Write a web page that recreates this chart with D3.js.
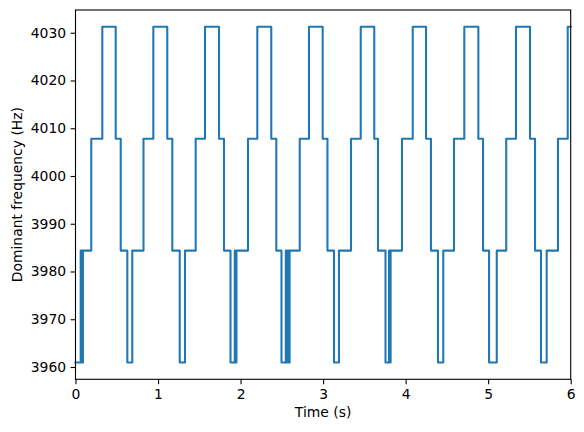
<!DOCTYPE html>
<html>
<head>
<meta charset="utf-8">
<script src="https://cdn.jsdelivr.net/npm/d3@7"></script>
<style>
  html, body { margin: 0; padding: 0; background: #fff; }
  svg { display: block; }
  text { font-family: "DejaVu Sans", sans-serif; fill: #000; }
</style>
</head>
<body>
<svg id="chart" width="584" height="432"></svg>
<script>
// Frequency bins (Hz)
const LOW = 3960.9375, MID = 3984.375, HIGH = 4007.8125, TOP = 4031.25;

// Step change times (s) and the frequency that starts at each time
const times = [
  0.000, 0.063, 0.070, 0.077, 0.084, 0.090, 0.191, 0.325, 0.487, 0.548,
  0.628, 0.688, 0.824, 0.943, 1.112, 1.173, 1.263, 1.327, 1.456, 1.569,
  1.739, 1.799, 1.878, 1.930, 1.940, 1.950, 1.960, 2.090, 2.203,
  2.372, 2.433, 2.496, 2.548, 2.560, 2.572, 2.584, 2.594, 2.602,
  2.717, 2.829, 2.995, 3.053, 3.132, 3.192, 3.338, 3.456, 3.620, 3.665,
  3.756, 3.799, 3.808, 3.818, 3.827, 3.956, 4.086, 4.247, 4.307,
  4.392, 4.456, 4.586, 4.711, 4.881, 4.938, 5.011, 5.104, 5.219, 5.337,
  5.507, 5.568, 5.640, 5.709, 5.846, 5.964, 6.000
];
const freqs = [
  LOW,  MID,  LOW,  MID,  LOW,  MID,  HIGH, TOP,  HIGH, MID,
  LOW,  MID,  HIGH, TOP,  HIGH, MID,  LOW,  MID,  HIGH, TOP,
  HIGH, MID,  LOW,  MID,  LOW,  MID,  MID,  HIGH, TOP,
  HIGH, MID,  LOW,  MID,  LOW,  MID,  LOW,  MID,  MID,
  HIGH, TOP,  HIGH, MID,  LOW,  MID,  HIGH, TOP,  HIGH, MID,
  LOW,  MID,  LOW,  MID,  MID,  HIGH, TOP,  HIGH, MID,
  LOW,  MID,  HIGH, TOP,  HIGH, MID,  LOW,  MID,  HIGH, TOP,
  HIGH, MID,  LOW,  MID,  HIGH, TOP,  TOP
];

const xTicks = [0, 1, 2, 3, 4, 5, 6];
const yTicks = [3960, 3970, 3980, 3990, 4000, 4010, 4020, 4030];
const xLabel = "Time (s)";
const yLabel = "Dominant frequency (Hz)";

const svg = d3.select("#chart");
const margin = { left: 75.5, top: 10, right: 584 - 570.7, bottom: 432 - 379.3 };
const W = 584 - margin.left - margin.right;
const H = 432 - margin.top - margin.bottom;

const data = times.map((t, i) => ({ t, f: freqs[i] }));

const fMin = d3.min(freqs), fMax = d3.max(freqs);
const pad = (fMax - fMin) * 0.05;
const x = d3.scaleLinear().domain([0, 6]).range([0, W]);
const y = d3.scaleLinear().domain([fMin - pad, fMax + pad]).range([H, 0]);

const g = svg.append("g").attr("transform", `translate(${margin.left},${margin.top})`);

g.append("path")
  .datum(data)
  .attr("fill", "none")
  .attr("stroke", "#1f77b4")
  .attr("stroke-width", 2.08)
  .attr("stroke-linejoin", "round")
  .attr("stroke-linecap", "square")
  .attr("d", d3.line().x(d => x(d.t)).y(d => y(d.f)).curve(d3.curveStepAfter));

// Frame
g.append("rect").attr("x", 0).attr("y", 0).attr("width", W).attr("height", H)
  .attr("fill", "none").attr("stroke", "#000").attr("stroke-width", 1.1);

const xAxis = g.append("g").attr("transform", `translate(0,${H})`)
  .call(d3.axisBottom(x).tickValues(xTicks).tickFormat(d3.format("d")).tickSize(4.9).tickPadding(4.5));
const yAxis = g.append("g")
  .call(d3.axisLeft(y).tickValues(yTicks).tickFormat(d3.format("d")).tickSize(4.9).tickPadding(4.5));

[xAxis, yAxis].forEach(a => {
  a.select(".domain").remove();
  a.selectAll(".tick line").attr("stroke", "#000").attr("stroke-width", 1.1);
  a.selectAll(".tick text").attr("font-size", "13.9px").attr("font-family", "DejaVu Sans, sans-serif").attr("fill", "#000");
});

svg.append("text")
  .attr("x", margin.left + W / 2).attr("y", 417)
  .attr("text-anchor", "middle").attr("font-size", "13.9px")
  .text(xLabel);

svg.append("text")
  .attr("transform", `translate(21.5,${margin.top + H / 2}) rotate(-90)`)
  .attr("text-anchor", "middle").attr("font-size", "13.9px")
  .text(yLabel);
</script>
</body>
</html>
